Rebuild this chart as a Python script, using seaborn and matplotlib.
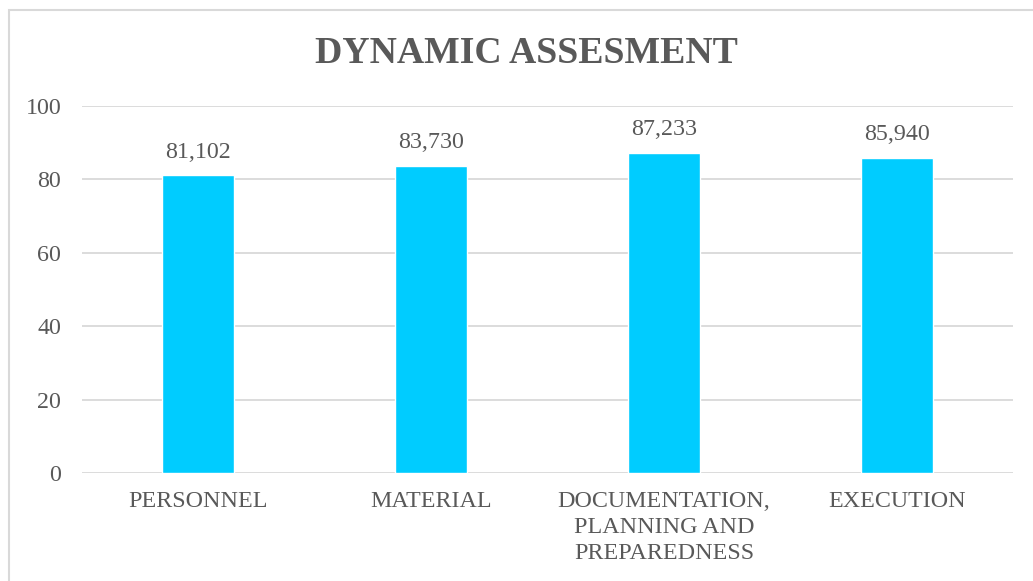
import matplotlib
matplotlib.use("Agg")
import matplotlib.pyplot as plt
import seaborn as sns
import pandas as pd
from matplotlib.patches import Rectangle

categories = ["PERSONNEL", "MATERIAL", "DOCUMENTATION,\nPLANNING AND\nPREPAREDNESS", "EXECUTION"]
scores = [81.102, 83.730, 87.233, 85.940]
score_labels = ["81,102", "83,730", "87,233", "85,940"]
y_ticks = [0, 20, 40, 60, 80, 100]

df = pd.DataFrame({"category": categories, "score": scores})

sns.set_theme(style="white")
plt.rcParams["font.family"] = ["Liberation Serif", "DejaVu Serif"]

text_color = "#595959"
grid_color = "#D9D9D9"

fig = plt.figure(figsize=(10.33, 5.81), dpi=100)
ax = fig.add_axes([0.0794, 0.1859, 0.9012, 0.6317])

sns.barplot(data=df, x="category", y="score", color="#00CCFF", width=0.31,
            saturation=1, ax=ax, zorder=3)

ax.set_ylim(0, 100)
ax.set_xlim(-0.5, 3.5)
ax.set_yticks(y_ticks)
ax.yaxis.grid(True, color=grid_color, linewidth=1.3, zorder=0)
ax.set_axisbelow(True)
for s in ax.spines.values():
    s.set_visible(False)
ax.tick_params(axis="both", length=0, labelsize=17.3, colors=text_color)
ax.tick_params(axis="y", pad=15)
ax.tick_params(axis="x", pad=13)
for lbl in ax.get_xticklabels():
    lbl.set_linespacing(1.3)
ax.set_xlabel("")
ax.set_ylabel("")

for i, (v, t) in enumerate(zip(scores, score_labels)):
    ax.annotate(t, (i, v), xytext=(0, 9), textcoords="offset points",
                ha="center", va="bottom", fontsize=17.3, color=text_color)

fig.text(0.51, 0.908, "DYNAMIC ASSESMENT", ha="center", va="center",
         fontsize=27.2, fontweight="bold", color=text_color)

fig.patches.append(Rectangle((9 / 1033, -0.05), 1.1, 1 - 10 / 581 + 0.05,
                             transform=fig.transFigure, fill=False,
                             edgecolor=grid_color, linewidth=1.5))

fig.savefig("out.png", dpi=100, facecolor="white")
